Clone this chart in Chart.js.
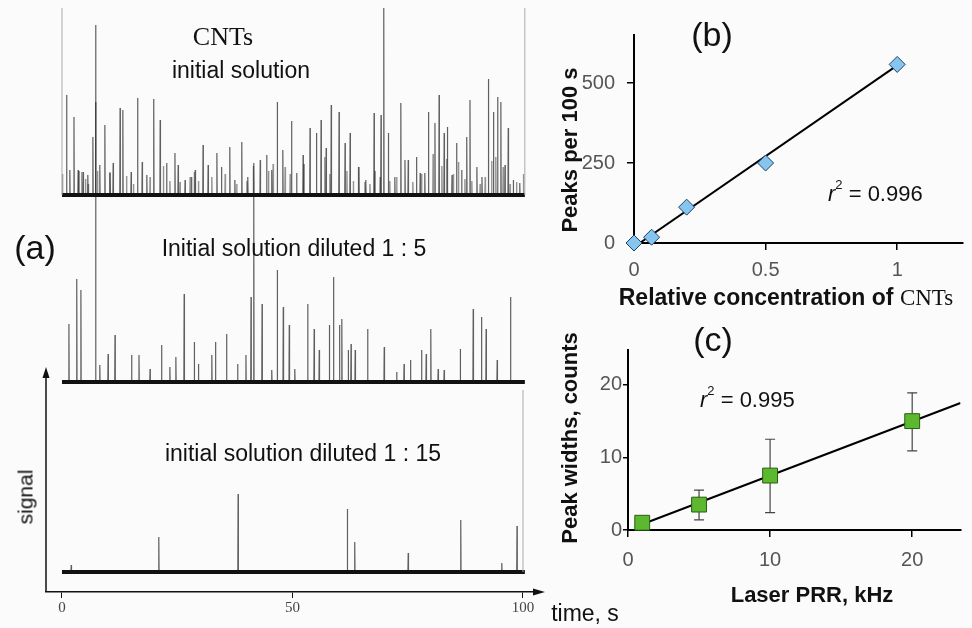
<!DOCTYPE html>
<html>
<head>
<meta charset="utf-8">
<script src="https://cdn.jsdelivr.net/npm/chart.js@4.4.1/dist/chart.umd.min.js"></script>
<style>
  html, body { margin: 0; padding: 0; background: #fbfbfb; }
  #fig { position: relative; width: 972px; height: 628px; overflow: hidden; font-family: "Liberation Sans", Arial, sans-serif; color: #111; }
  canvas { position: absolute; }
  .t { position: absolute; white-space: nowrap; line-height: 1; transform: translate(-50%, -50%); }
  .l { transform: translate(0, -50%); }
  .rot { transform: translate(-50%, -50%) rotate(-90deg); }
  .serif { font-family: "Liberation Serif", "Times New Roman", serif; font-weight: normal; }
  .b { font-weight: bold; }
  sup { font-size: 13px; position: relative; top: -3px; }
</style>
</head>
<body>
<div id="fig">
  <canvas id="chartA" width="560" height="628" style="left:0;top:0"></canvas>
  <canvas id="chartB" width="432" height="310" style="left:540px;top:0"></canvas>
  <canvas id="chartC" width="432" height="318" style="left:540px;top:310px"></canvas>

  <div class="t" style="left:35px;top:247px;font-size:34px">(a)</div>
  <div class="t serif" style="left:223px;top:37px;font-size:26px">CNTs</div>
  <div class="t" style="left:241px;top:70px;font-size:23px">initial solution</div>
  <div class="t" style="left:294px;top:248px;font-size:23px">Initial solution diluted 1 : 5</div>
  <div class="t" style="left:303px;top:453px;font-size:23px">initial solution diluted 1 : 15</div>
  <div class="t rot" style="left:25px;top:497px;font-size:21px">signal</div>
  <div class="t" style="left:585px;top:613px;font-size:23px">time, s</div>

  <div class="t" style="left:712px;top:34px;font-size:34px">(b)</div>
  <div class="t rot b" style="left:570px;top:150px;font-size:22px">Peaks per 100 s</div>
  <div class="t b" style="left:786px;top:297px;font-size:23px">Relative concentration of <span class="serif">CNTs</span></div>
  <div class="t l" style="left:828px;top:193px;font-size:22px"><i>r</i><sup>2</sup> = 0.996</div>

  <div class="t" style="left:713px;top:339px;font-size:34px">(c)</div>
  <div class="t rot b" style="left:570px;top:438px;font-size:22px">Peak widths, counts</div>
  <div class="t b" style="left:812px;top:595px;font-size:22px">Laser PRR, kHz</div>
  <div class="t l" style="left:700px;top:399px;font-size:22px"><i>r</i><sup>2</sup> = 0.995</div>
</div>

<script>
// (a) spike trains: peak time (s) and peak height (signal units)
const initialTimes = [1.0, 1.7, 2.6, 3.5, 4.6, 5.6, 6.7, 7.3, 8.2, 9.3, 10.4, 11.1, 12.6, 13.2, 15.0, 16.4, 17.4, 18.4, 19.9, 21.3,
  22.7, 24.5, 25.2, 26.7, 28.1, 28.9, 30.6, 31.7, 33.6, 34.6, 36.4, 37.5, 39.0, 40.3, 41.6, 43.0, 44.4, 45.5, 46.7, 47.9,
  49.8, 50.9, 52.3, 53.8, 55.2, 56.2, 57.3, 58.4, 60.1, 61.4, 62.5, 64.4, 65.9, 67.7, 69.2, 69.8, 70.8, 72.2, 73.5, 74.4,
  75.1, 76.9, 77.7, 78.7, 79.5, 80.9, 81.8, 82.9, 83.6, 84.6, 85.6, 86.7, 87.8, 88.5, 90.0, 91.1, 92.5, 93.6, 94.5, 95.2,
  96.1, 96.8, 97.9, 99.3];
const initialHeights = [100, 25, 78, 25, 23, 20, 58, 93, 30, 70, 22, 32, 87, 85, 23, 97, 33, 20, 96, 75,
  32, 42, 30, 15, 18, 25, 50, 30, 42, 28, 48, 15, 53, 18, 32, 35, 40, 25, 93, 45,
  74, 22, 40, 67, 62, 75, 47, 90, 83, 52, 62, 28, 15, 82, 80, 187, 62, 18, 92, 35,
  35, 38, 22, 22, 83, 72, 100, 62, 68, 20, 52, 25, 58, 95, 28, 18, 116, 83, 98, 93,
  30, 67, 15, 12];
// small peaks crowding the baseline of the first trace
const initialMinorTimes = [0.1, 3.7, 4.3, 5.1, 5.7, 7.7, 10.4, 14.0, 15.5, 19.1, 22.0, 23.4, 25.6, 27.8, 28.7, 29.6, 32.5, 35.4, 37.9, 40.1,
  41.5, 44.8, 45.8, 48.4, 49.5, 52.5, 57.0, 58.1, 61.8, 63.2, 64.3, 65.7, 66.8, 67.9, 69.0, 71.1, 72.6, 76.1, 78.0, 80.5,
  82.4, 83.4, 84.9, 86.0, 87.4, 88.9, 90.7, 91.8, 93.2, 94.1, 95.7, 97.2, 98.6, 100.1];
const initialMinorHeights = [21, 24, 23, 16, 11, 24, 23, 19, 11, 18, 29, 14, 13, 18, 23, 14, 18, 21, 11, 14,
  29, 24, 31, 28, 21, 31, 38, 21, 24, 14, 28, 13, 11, 24, 18, 14, 18, 13, 21, 41,
  29, 36, 21, 33, 16, 14, 11, 18, 34, 38, 28, 11, 13, 21];

const dil5Times = [1.5, 3.2, 4.1, 7.3, 8.2, 10.0, 11.5, 15.1, 16.7, 19.1, 21.6, 23.4, 24.7, 26.5, 28.7, 29.6, 32.5, 33.3, 35.7, 38.1,
  39.9, 41.0, 41.6, 43.4, 45.5, 46.7, 48.0, 49.3, 50.5, 53.3, 54.7, 55.8, 58.0, 58.9, 60.2, 60.7, 62.1, 62.7, 63.6, 66.3,
  69.9, 72.6, 74.2, 75.6, 78.0, 79.0, 80.0, 81.6, 82.9, 86.4, 89.2, 91.0, 92.0, 94.4, 97.3];
const dil5Heights = [58, 103, 92, 357, 17, 28, 47, 27, 27, 13, 37, 15, 25, 88, 40, 18, 27, 40, 48, 18,
  27, 85, 187, 78, 12, 112, 75, 57, 13, 78, 53, 32, 57, 105, 57, 63, 32, 38, 32, 53,
  35, 10, 18, 22, 32, 28, 53, 13, 12, 33, 73, 65, 53, 22, 85];

const dil15Times = [2.0, 21.0, 38.2, 61.9, 63.5, 75.1, 86.5, 95.4, 98.7];
const dil15Heights = [7, 35, 78, 63, 30, 19, 52, 9, 46];

const timeTicks = [0, 50, 100];

// (b) peak count vs relative concentration
const concentration = [0, 0.067, 0.2, 0.5, 1];
const peaksPer100s = [0, 18, 112, 250, 558];
const fitConc = [0.022, 1];
const fitPeaks = [0, 555];
const concTicks = [0, 0.5, 1];
const peakTicks = [0, 250, 500];

// (c) peak width vs laser pulse repetition rate
const prr = [1, 5, 10, 20];
const peakWidths = [1.0, 3.5, 7.5, 15.0];
const widthLow = [1.0, 1.4, 2.4, 10.9];
const widthHigh = [1.0, 5.5, 12.5, 18.9];
const fitPrr = [1, 23.4];
const fitWidths = [0.8, 17.5];
const prrTicks = [0, 10, 20];
const widthTicks = [0, 10, 20];

const baseOffsets = [397, 210, 20];   // where each trace sits on the shared signal axis
const signalArrowTop = 225;

function spikeTrace(times, heights, base) {
  const order = times.map((t, i) => i).sort((a, b) => times[a] - times[b]);
  const pts = [{ x: 0, y: base }];
  order.forEach(i => {
    pts.push({ x: times[i] - 0.06, y: base });
    pts.push({ x: times[i], y: base + heights[i] });
    pts.push({ x: times[i] + 0.06, y: base });
  });
  pts.push({ x: 100.4, y: base });
  return pts;
}

function flat(base) {
  return [{ x: 0, y: base }, { x: 100.4, y: base }];
}

function toPoints(xs, ys) {
  return xs.map((x, i) => ({ x, y: ys[i] }));
}

function fixedTicks(values) {
  return scale => { scale.ticks = values.map(v => ({ value: v })); };
}

const arrowsPlugin = {
  id: 'arrows',
  afterDraw(chart) {
    const { ctx, chartArea, scales } = chart;
    const x0 = chartArea.left;
    const y0 = scales.y.getPixelForValue(0);
    const yTop = scales.y.getPixelForValue(signalArrowTop);
    ctx.save();
    ctx.strokeStyle = '#111';
    ctx.fillStyle = '#111';
    ctx.lineWidth = 1.5;
    ctx.beginPath();
    ctx.moveTo(x0, y0);
    ctx.lineTo(x0, yTop + 8);
    ctx.stroke();
    ctx.beginPath();
    ctx.moveTo(x0, yTop);
    ctx.lineTo(x0 - 3.5, yTop + 11);
    ctx.lineTo(x0 + 3.5, yTop + 11);
    ctx.closePath();
    ctx.fill();
    const xr = chartArea.right;
    ctx.beginPath();
    ctx.moveTo(xr + 12, y0);
    ctx.lineTo(xr, y0 - 3.5);
    ctx.lineTo(xr, y0 + 3.5);
    ctx.closePath();
    ctx.fill();
    // thin frame edges left over from the original panels
    ctx.strokeStyle = '#aaa';
    ctx.lineWidth = 1;
    const fx = scales.x;
    [[0, baseOffsets[0], 584], [100.4, baseOffsets[0], 584], [100, baseOffsets[2], 202]].forEach(([t, a, b]) => {
      ctx.beginPath();
      ctx.moveTo(fx.getPixelForValue(t), scales.y.getPixelForValue(a));
      ctx.lineTo(fx.getPixelForValue(t), scales.y.getPixelForValue(b));
      ctx.stroke();
    });
    ctx.restore();
  }
};

const spikeStyle = { borderColor: 'rgba(20,20,20,0.68)', borderWidth: 1.2, pointRadius: 0, tension: 0 };
const minorStyle = { borderColor: 'rgba(20,20,20,0.45)', borderWidth: 1.4, pointRadius: 0, tension: 0 };
const baseStyle = { borderColor: '#111', borderWidth: 4, pointRadius: 0 };

new Chart(document.getElementById('chartA'), {
  type: 'line',
  data: {
    datasets: [
      { data: spikeTrace(initialMinorTimes, initialMinorHeights, baseOffsets[0]), ...minorStyle },
      { data: spikeTrace(initialTimes, initialHeights, baseOffsets[0]), ...spikeStyle },
      { data: flat(baseOffsets[0]), ...baseStyle },
      { data: spikeTrace(dil5Times, dil5Heights, baseOffsets[1]), ...spikeStyle },
      { data: flat(baseOffsets[1]), ...baseStyle },
      { data: spikeTrace(dil15Times, dil15Heights, baseOffsets[2]), ...spikeStyle },
      { data: flat(baseOffsets[2]), ...baseStyle }
    ]
  },
  options: {
    responsive: false,
    animation: false,
    layout: { padding: { left: 46, right: 27, top: 0, bottom: 0 } },
    plugins: { legend: { display: false }, tooltip: { enabled: false } },
    scales: {
      x: {
        type: 'linear', min: -3.47, max: 102.17,
        afterBuildTicks: fixedTicks(timeTicks),
        afterFit: s => { s.height = 36; },
        ticks: { font: { family: 'Liberation Serif', size: 15 }, color: '#444', padding: 1, maxRotation: 0, autoSkip: false },
        grid: { drawOnChartArea: false, color: '#111', tickLength: 6, lineWidth: 1 },
        border: { color: '#111', width: 1.5 }
      },
      y: { display: false, min: 0, max: 592 }
    }
  },
  plugins: [arrowsPlugin]
});

function sideAxes(opts) {
  return {
    x: {
      type: 'linear', min: opts.xMin, max: opts.xMax,
      afterBuildTicks: fixedTicks(opts.xTicks),
      afterFit: s => { s.height = opts.xHeight; },
      ticks: {
        font: { family: 'Liberation Sans', size: 20 }, color: '#555', padding: opts.xPad,
        maxRotation: 0, autoSkip: false, callback: v => String(v)
      },
      grid: { drawOnChartArea: false, color: '#000', tickLength: 7, lineWidth: 1.5 },
      border: { color: '#000', width: 2 }
    },
    y: {
      type: 'linear', min: opts.yMin, max: opts.yMax,
      afterBuildTicks: fixedTicks(opts.yTicks),
      afterFit: s => { s.width = opts.yWidth; },
      ticks: { font: { family: 'Liberation Sans', size: 20 }, color: '#555', padding: opts.yPad, callback: v => String(v) },
      grid: { drawOnChartArea: false, color: '#000', tickLength: opts.yTick, lineWidth: 1.5 },
      border: { color: '#000', width: 2 }
    }
  };
}

new Chart(document.getElementById('chartB'), {
  type: 'scatter',
  data: {
    datasets: [
      {
        data: toPoints(concentration, peaksPer100s), pointStyle: 'rectRot', pointRadius: 8,
        backgroundColor: '#86c5ee', borderColor: '#1f3f66', borderWidth: 1, clip: false, order: 0
      },
      { type: 'line', data: toPoints(fitConc, fitPeaks), borderColor: '#000', borderWidth: 2, pointRadius: 0, order: 1 }
    ]
  },
  options: {
    responsive: false,
    animation: false,
    layout: { padding: { left: 0, right: 0, top: 35, bottom: 0 } },
    plugins: { legend: { display: false }, tooltip: { enabled: false } },
    scales: sideAxes({
      xMin: 0, xMax: 1.25, xTicks: concTicks, xHeight: 67, xPad: 8,
      yMin: 0, yMax: 650, yTicks: peakTicks, yWidth: 94, yPad: 12, yTick: 7
    })
  }
});

const errorBars = [];
prr.forEach((x, i) => {
  errorBars.push({ x, y: widthLow[i] }, { x, y: widthHigh[i] }, { x, y: null });
});
const errorCaps = prr.flatMap((x, i) => [{ x, y: widthLow[i] }, { x, y: widthHigh[i] }]);

new Chart(document.getElementById('chartC'), {
  type: 'scatter',
  data: {
    datasets: [
      {
        data: toPoints(prr, peakWidths), pointStyle: 'rect', pointRadius: 10.5,
        backgroundColor: '#5cb82e', borderColor: '#2b5e14', borderWidth: 1, clip: false, order: 0
      },
      { type: 'line', data: toPoints(fitPrr, fitWidths), borderColor: '#000', borderWidth: 2, pointRadius: 0, order: 1 },
      { type: 'line', data: errorBars, borderColor: '#444', borderWidth: 1.2, pointRadius: 0, spanGaps: false, order: 2 },
      { data: errorCaps, pointStyle: 'line', pointRadius: 5, borderColor: '#444', borderWidth: 1.2, order: 2 }
    ]
  },
  options: {
    responsive: false,
    animation: false,
    layout: { padding: { left: 0, right: 0, top: 40, bottom: 0 } },
    plugins: { legend: { display: false }, tooltip: { enabled: false } },
    scales: sideAxes({
      xMin: 0, xMax: 23.4, xTicks: prrTicks, xHeight: 98, xPad: 11,
      yMin: 0, yMax: 24.8, yTicks: widthTicks, yWidth: 88, yPad: 1, yTick: 5
    })
  }
});
</script>
</body>
</html>
